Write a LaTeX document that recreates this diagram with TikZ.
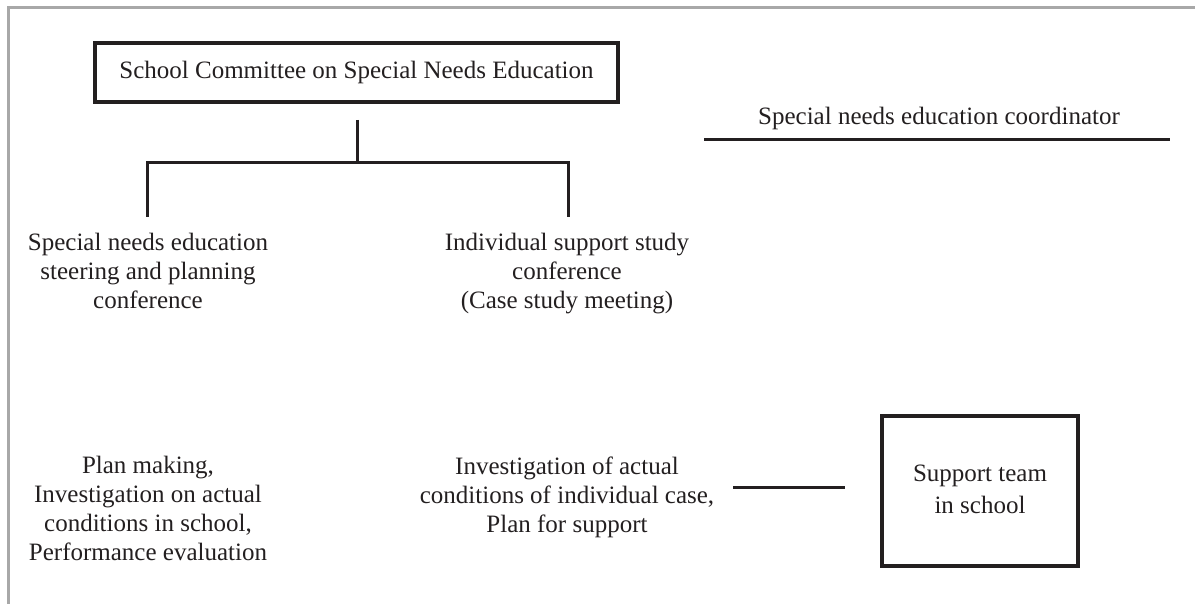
\documentclass[tikz,border=0pt]{standalone}
\usepackage{fontspec}
\setmainfont{Liberation Serif}
\begin{document}
\begin{tikzpicture}[x=1pt,y=-1pt,
  every node/.style={inner sep=0pt, text=ink, font=\fontsize{25}{29}\selectfont, align=center},
  link/.style={draw=ink, line width=3pt},
  boxed/.style={draw=ink, line width=3.3pt}]
\definecolor{ink}{HTML}{231F20}
\definecolor{frame}{HTML}{A8A8A8}
\useasboundingbox (0,0) rectangle (1195,604);

% outer frame (top and left edges)
\draw[frame, line width=3pt] (8,604) -- (8,8) -- (1195,8);

% committee box
\node[boxed, minimum width=523pt, minimum height=59pt] (committee) at (356.5,72.5)
  {School Committee on Special Needs Education};

% coordinator label with underline
\node (coord) at (939,118) {Special needs education coordinator};
\coordinate (coordL) at (704,140);
\coordinate (coordR) at (1170,140);
\draw[link] (coordL) -- (coordR);

% branch from the committee to the two conferences
\coordinate (stem) at (357,120);
\coordinate (junc) at (357,163);
\coordinate (brL) at (147,163);
\coordinate (brR) at (568,163);
\coordinate (endL) at (147,217);
\coordinate (endR) at (568,217);
\draw[link] (stem) -- (junc);
\draw[link] (endL) -- (brL) -- (brR) -- (endR);

\node (steer) at (148,271)
  {Special needs education\\steering and planning\\conference};
\node (indiv) at (567,274)
  {Individual support study\\conference\\(Case study meeting)};

% tasks of each conference
\node (plan) at (148,508)
  {Plan making,\\Investigation on actual\\conditions in school,\\Performance evaluation};
\node (invest) at (567,497)
  {Investigation of actual\\conditions of individual case,\\Plan for support};

% support team
\node[boxed, minimum width=196pt, minimum height=150pt] (team) at (980,491) {};
\node[font=\fontsize{25}{32}\selectfont] (teamtext) at (980,489) {Support team\\in school};
\coordinate (tieL) at (733,487);
\coordinate (tieR) at (845,487);
\draw[link] (tieL) -- (tieR);
\end{tikzpicture}
\end{document}
